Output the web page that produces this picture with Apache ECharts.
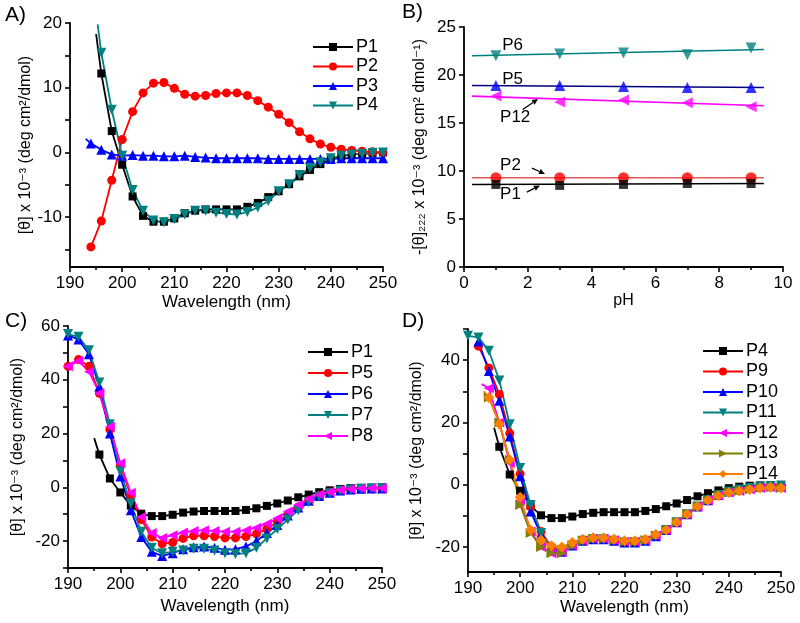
<!DOCTYPE html>
<html><head><meta charset="utf-8">
<script src="https://cdn.jsdelivr.net/npm/echarts@6.0.0/dist/echarts.min.js"></script>
<style>html,body{margin:0;padding:0;background:#fff}#c{width:800px;height:623px}</style>
</head><body><div id="c"></div><script>
// ---- shared wavelength grid (nm) ----
const wl = [190,192,194,196,198,200,202,204,206,208,210,212,214,216,218,220,222,224,226,228,230,232,234,236,238,240,242,244,246,248,250];

// ---- Panel A ----
const aP1 = [null,null,null,12.2,3.3,-1.9,-6.8,-9.8,-10.7,-10.7,-10.2,-9.4,-9.0,-8.8,-8.8,-8.8,-8.8,-8.4,-7.8,-6.9,-6.0,-4.9,-3.7,-2.7,-1.8,-1.1,-0.6,-0.3,-0.2,-0.1,0];
const aP1Start = [195, 18.3];
const aP2 = [null,null,-14.6,-10.6,-4.3,2.0,6.3,9.2,10.7,10.8,9.9,9.0,8.7,8.8,9.1,9.2,9.2,8.8,8.0,7.0,5.9,4.6,3.2,2.1,1.3,0.8,0.5,0.3,0.2,0.1,0];
const aP3 = [null,null,1.4,0.4,-0.3,-0.5,-0.4,-0.5,-0.5,-0.6,-0.6,-0.5,-0.7,-0.8,-0.9,-0.9,-0.9,-0.9,-0.9,-1.0,-1.0,-1.0,-1.0,-1.0,-1.0,-1.0,-0.9,-0.9,-0.9,-0.9,-0.9];
const aP3Start = [193, 2.1];
const aP4 = [null,null,null,15.4,6.6,-0.5,-5.8,-9.0,-10.5,-10.8,-10.3,-9.6,-9.0,-9.0,-9.3,-9.5,-9.6,-9.2,-8.5,-7.5,-6.0,-4.9,-3.5,-2.4,-1.5,-0.9,-0.5,-0.3,-0.2,-0.1,0];
const aP4Start = [195.3, 19.8];

// ---- Panel B ----
const pH = [1,3,5,7,9];
const bP6 = [22.0,22.2,22.3,22.1,22.8];
const bP5 = [18.9,18.9,18.8,18.7,18.7];
const bP12 = [17.8,17.2,17.4,17.1,16.7];
const bP2 = [9.3,9.3,9.3,9.3,9.3];
const bP1 = [8.6,8.5,8.6,8.7,8.7];
const fitX = [0.25,9.4];
const fitP6 = [22.0,22.65];
const fitP5 = [18.9,18.7];
const fitP12 = [17.8,16.8];
const fitP2 = [9.3,9.3];
const fitP1 = [8.6,8.7];

// ---- Panel C ----
const cP1 = aP1;
const cP1Start = [195, 18.3];
const cP5 = [45,47.5,45,35,21.5,8,-3,-12,-18.5,-21,-20.5,-19,-18,-18,-18.3,-18.8,-18.8,-18.3,-17.3,-15.5,-13,-10,-7.3,-4.8,-3,-1.8,-1.1,-0.7,-0.5,-0.4,-0.4];
const cP6 = [56.5,55,49.5,37.5,20,4,-8.5,-18.5,-24,-25.5,-24.5,-23,-22.3,-22,-22.5,-23.2,-23,-22,-20,-17,-14,-10.5,-7.5,-5,-3.2,-2,-1.2,-0.8,-0.5,-0.4,-0.4];
const cP7 = [57,56,51,39,23.5,6,-6,-16.5,-22.5,-24.5,-24,-23.5,-22.8,-22.8,-23.5,-24.5,-24.8,-24.5,-22.5,-19,-15.5,-12,-8.5,-5.5,-3.5,-2.2,-1.3,-0.8,-0.5,-0.4,-0.4];
const cP8 = [45,47,43,35,22.5,9,-2,-11,-17,-18.8,-17.8,-16.8,-16.2,-16,-16.2,-16.5,-16.5,-16,-15,-13.5,-11.5,-9,-6.5,-4.3,-2.7,-1.7,-1.0,-0.6,-0.4,-0.3,-0.3];

// ---- Panel D ----
const dP4 = aP1;
const dP4Start = [195, 18.3];
const dP9 = [null,44.5,37.5,29,16.5,3.5,-7,-15,-20,-21,-19.5,-18,-17.5,-17.5,-18,-18.5,-18.5,-18,-16.5,-14.5,-12,-9.5,-7,-5,-3.3,-2.2,-1.5,-1.0,-0.7,-0.5,-0.5];
const dP10 = [null,46,36.5,27,15.5,2.7,-8.6,-16,-21,-21.5,-19.5,-18,-17.5,-17.5,-18,-18.5,-18.5,-18,-16.5,-14.5,-12,-9.5,-7,-5,-3.3,-2.2,-1.5,-1.0,-0.7,-0.5,-0.5];
const dP11 = [47.8,47.3,43,33.5,19.4,5.4,-6.5,-15.5,-20.5,-21,-19.5,-18,-17.5,-17.5,-18,-18.5,-18.5,-18,-16.5,-14.5,-12,-9.5,-7,-5,-3.3,-2.2,-1.5,-1.0,-0.6,-0.4,-0.3];
const dP12 = [null,null,31,20,7,-5,-15,-20,-22,-21.5,-19.5,-18,-17.3,-17.3,-17.8,-18.3,-18.3,-17.8,-16.3,-14.5,-12,-9.5,-7,-5,-3.5,-2.5,-2,-1.5,-1,-0.8,-1];
const dP12Start = [192.6, 32.3];
const dP13 = [null,null,28,20,8,-6.5,-15.5,-20,-22,-22,-19.5,-18,-17.3,-17.3,-17.8,-18.3,-18.3,-17.8,-16.3,-14.5,-12,-9.5,-7,-5,-3.5,-2.5,-2,-1.5,-1,-0.8,-1];
const dP13Start = [193, 29];
const dP14 = [null,null,28,19.5,8,-4,-14.5,-17.7,-19.6,-20,-18.5,-17.5,-17,-17,-17.5,-18,-18,-17.5,-16,-14.5,-12,-9.5,-7,-5,-3.5,-2.5,-2,-1.5,-1,-0.8,-1];
const dP14Start = [193, 30];

const FONT = '"Liberation Sans", Arial, "DejaVu Sans", sans-serif';
const BLACK='#000000', RED='#ff0000', BLUE='#0000ff', TEAL='#008080', MAG='#ff00ff', OLIVE='#808000', ORANGE='#ff8000', NAVY='#000080';

function pts(y, start) {
  const d = [];
  if (start) d.push({ value: start, symbol: 'none' });
  wl.forEach((x, i) => { if (y[i] != null) d.push([x, y[i]]); });
  return d;
}
function spec(name, idx, y, start, color, symbol, rot, size) {
  return {
    name, type: 'line', xAxisIndex: idx, yAxisIndex: idx,
    data: pts(y, start), symbol, symbolRotate: rot || 0, symbolSize: size || 9,
    showAllSymbol: true,
    lineStyle: { color, width: 1.8 }, itemStyle: { color, borderWidth: 0 },
    emphasis: { disabled: true }, animation: false
  };
}
function xyPts(xs, ys) { return xs.map((x, i) => [x, ys[i]]); }

const axisLine = { show: true, onZero: false, lineStyle: { color: BLACK, width: 1.8 } };
const tick = { show: true, inside: false, length: 5, lineStyle: { color: BLACK, width: 1.6 } };
const minor = { show: true, splitNumber: 2, length: 3, lineStyle: { color: BLACK, width: 1.6 } };
const lbl = { color: BLACK, fontSize: 17, fontFamily: FONT, margin: 8 };

function wlAxis(gi, gap) {
  return { type: 'value', gridIndex: gi, min: 190, max: 250, interval: 10,
    axisLine, axisTick: tick, minorTick: minor, splitLine: { show: false }, minorSplitLine: { show: false },
    axisLabel: lbl, name: 'Wavelength (nm)', nameLocation: 'middle', nameGap: gap,
    nameTextStyle: { color: BLACK, fontSize: 17, fontFamily: FONT } };
}
function yAx(gi, min, max, ticks, labels, name, gap) {
  return { type: 'value', gridIndex: gi, min, max,
    axisLine, axisTick: Object.assign({}, tick, { customValues: ticks }),
    splitLine: { show: false },
    axisLabel: Object.assign({}, lbl, { customValues: labels }),
    name, nameLocation: 'middle', nameGap: gap,
    nameTextStyle: { color: BLACK, fontSize: 16, fontFamily: FONT } };
}

const yTitle = '[θ] x 10⁻³ (deg cm²/dmol)';

const series = [
  spec('A:P1', 0, aP1, aP1Start, BLACK, 'rect', 0, 8),
  spec('A:P2', 0, aP2, null, RED, 'circle', 0, 9),
  spec('A:P3', 0, aP3, aP3Start, BLUE, 'triangle', 0, 10),
  spec('A:P4', 0, aP4, aP4Start, TEAL, 'triangle', 180, 10),

  spec('C:P1', 2, cP1, cP1Start, BLACK, 'rect', 0, 8),
  spec('C:P5', 2, cP5, null, RED, 'circle', 0, 9),
  spec('C:P6', 2, cP6, null, BLUE, 'triangle', 0, 10),
  spec('C:P7', 2, cP7, null, TEAL, 'triangle', 180, 10),
  spec('C:P8', 2, cP8, null, MAG, 'triangle', 90, 10),

  spec('D:P4', 3, dP4, dP4Start, BLACK, 'rect', 0, 8),
  spec('D:P9', 3, dP9, null, RED, 'circle', 0, 9),
  spec('D:P10', 3, dP10, null, BLUE, 'triangle', 0, 10),
  spec('D:P11', 3, dP11, null, TEAL, 'triangle', 180, 10),
  spec('D:P12', 3, dP12, dP12Start, MAG, 'triangle', 90, 10),
  spec('D:P13', 3, dP13, dP13Start, OLIVE, 'triangle', -90, 10),
  spec('D:P14', 3, dP14, dP14Start, ORANGE, 'diamond', 0, 11)
];

// Panel B: fit lines + markers
function fitLine(name, ys, color) {
  return { name, type: 'line', xAxisIndex: 1, yAxisIndex: 1, data: xyPts(fitX, ys), symbol: 'none',
    lineStyle: { color, width: 1.6 }, emphasis: { disabled: true }, animation: false, z: 2 };
}
function marks(name, ys, color, symbol, rot) {
  return { name, type: 'scatter', xAxisIndex: 1, yAxisIndex: 1, data: xyPts(pH, ys), symbol,
    symbolRotate: rot || 0, symbolSize: symbol === 'rect' ? 9 : 11, itemStyle: { color }, emphasis: { disabled: true }, animation: false, z: 3 };
}
series.push(
  fitLine('B:fitP6', fitP6, TEAL), marks('B:P6', bP6, TEAL, 'triangle', 180),
  fitLine('B:fitP5', fitP5, NAVY), marks('B:P5', bP5, BLUE, 'triangle', 0),
  fitLine('B:fitP12', fitP12, MAG), marks('B:P12', bP12, MAG, 'triangle', 90),
  fitLine('B:fitP2', fitP2, '#e05a5a'), marks('B:P2', bP2, RED, 'circle', 0),
  fitLine('B:fitP1', fitP1, BLACK), marks('B:P1', bP1, BLACK, 'rect', 0)
);

function legend(left, top, names, gap) {
  return { left, top, orient: 'vertical', itemWidth: 40, itemHeight: 10, itemGap: gap,
    data: names, formatter: n => n.split(':')[1], selectedMode: false,
    textStyle: { color: BLACK, fontSize: 18, fontFamily: FONT, padding: [0, 0, 0, -2] } };
}

const chart = echarts.init(document.getElementById('c'), null, { renderer: 'canvas' });
const option = {
  backgroundColor: '#ffffff',
  animation: false,
  grid: [
    { left: 70, top: 23, width: 313, height: 244 },
    { left: 464, top: 27, width: 319, height: 240 },
    { left: 68, top: 326, width: 314, height: 242 },
    { left: 468, top: 329, width: 313, height: 243 }
  ],
  xAxis: [
    wlAxis(0, 27),
    { type: 'value', gridIndex: 1, min: 0, max: 10, interval: 2, axisLine,
      axisTick: tick, minorTick: minor, splitLine: { show: false }, minorSplitLine: { show: false },
      axisLabel: lbl, name: 'pH', nameLocation: 'middle', nameGap: 19,
      nameTextStyle: { color: BLACK, fontSize: 16, fontFamily: FONT } },
    wlAxis(2, 30),
    wlAxis(3, 27)
  ],
  yAxis: [
    yAx(0, -17.7, 20, [-15,-10,-5,0,5,10,15,20], [-10,0,10,20], yTitle, 35),
    yAx(1, 0, 25, [0,5,10,15,20,25], [0,5,10,15,20,25], '-[θ]₂₂₂ x 10⁻³ (deg cm² dmol⁻¹)', 36),
    yAx(2, -30, 60, [-30,-20,-10,0,10,20,30,40,50,60], [-20,0,20,40,60], yTitle, 42),
    yAx(3, -28, 50, [-20,-10,0,10,20,30,40,50], [-20,0,20,40], yTitle, 43)
  ],
  legend: [
    legend(307, 33, ['A:P1','A:P2','A:P3','A:P4'], 1.5),
    legend(302, 338, ['C:P1','C:P5','C:P6','C:P7','C:P8'], 3),
    legend(697, 337, ['D:P4','D:P9','D:P10','D:P11','D:P12','D:P13','D:P14'], 2.5)
  ],
  graphic: [
    { type: 'text', left: 5, top: 5, style: { text: 'A)', fontSize: 21, fontFamily: FONT, fill: BLACK } },
    { type: 'text', left: 402, top: 2, style: { text: 'B)', fontSize: 21, fontFamily: FONT, fill: BLACK } },
    { type: 'text', left: 5, top: 311, style: { text: 'C)', fontSize: 21, fontFamily: FONT, fill: BLACK } },
    { type: 'text', left: 402, top: 311, style: { text: 'D)', fontSize: 21, fontFamily: FONT, fill: BLACK } }
  ],
  series
};
chart.setOption(option);

// Panel B annotations, placed in data coordinates
const bNotes = [
  { text: 'P6', at: [1.2, 23.1] },
  { text: 'P5', at: [1.2, 19.6] },
  { text: 'P12', at: [1.13, 15.6], arrow: [[1.84, 16.4], [2.32, 17.5]] },
  { text: 'P2', at: [1.13, 10.6], arrow: [[2.13, 10.3], [2.54, 9.7]] },
  { text: 'P1', at: [1.13, 7.6], arrow: [[1.97, 7.8], [2.38, 8.5]] }
];
const extra = [];
bNotes.forEach(n => {
  const p = chart.convertToPixel({ gridIndex: 1 }, n.at);
  extra.push({ type: 'text', x: p[0], y: p[1], style: { text: n.text, fontSize: 17, fontFamily: FONT, fill: BLACK, verticalAlign: 'middle', align: 'left' } });
  if (n.arrow) {
    const a = chart.convertToPixel({ gridIndex: 1 }, n.arrow[0]);
    const b = chart.convertToPixel({ gridIndex: 1 }, n.arrow[1]);
    const dx = b[0] - a[0], dy = b[1] - a[1], L = Math.hypot(dx, dy), ux = dx / L, uy = dy / L;
    const hl = 6, hw = 2.8;
    const bx = b[0] - ux * hl, by = b[1] - uy * hl;
    extra.push({ type: 'line', shape: { x1: a[0], y1: a[1], x2: bx, y2: by }, style: { stroke: BLACK, lineWidth: 1.2 } });
    extra.push({ type: 'polygon', shape: { points: [[b[0], b[1]], [bx - uy * hw, by + ux * hw], [bx + uy * hw, by - ux * hw]] }, style: { fill: BLACK } });
  }
});
chart.setOption({ graphic: option.graphic.concat(extra) });
</script></body></html>
